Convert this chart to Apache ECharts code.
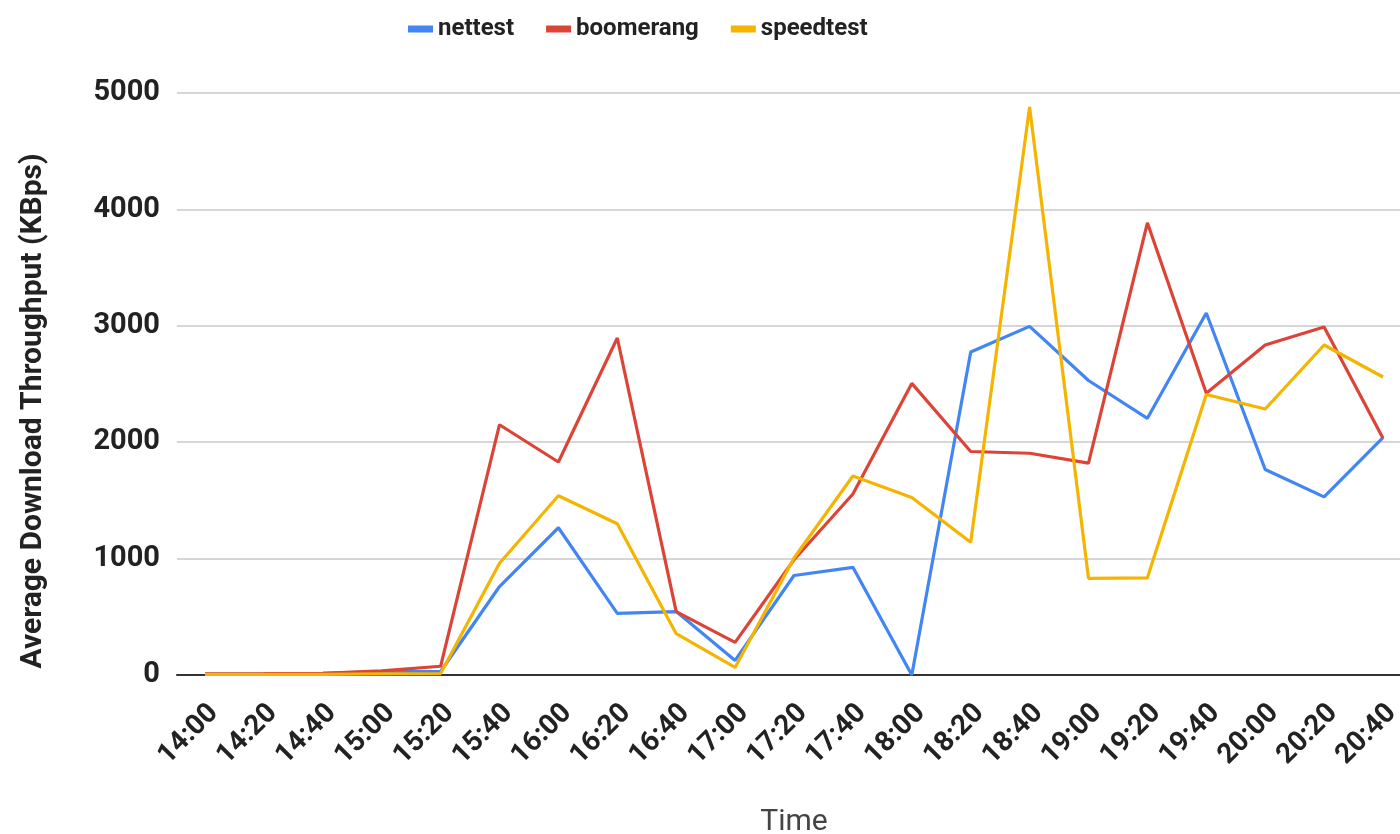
<!DOCTYPE html>
<html>
<head>
<meta charset="utf-8">
<title>Average Download Throughput</title>
<script src="https://cdn.jsdelivr.net/npm/echarts@6/dist/echarts.min.js"></script>
<style>
  html, body { margin: 0; padding: 0; background: #fff; }
  #chart { width: 1400px; height: 834px; }
</style>
</head>
<body>
<div id="chart"></div>
<script>
// Sample times (20-minute steps)
const times = ['14:00', '14:20', '14:40', '15:00', '15:20', '15:40', '16:00', '16:20', '16:40', '17:00', '17:20',
               '17:40', '18:00', '18:20', '18:40', '19:00', '19:20', '19:40', '20:00', '20:20', '20:40'];

// Average download throughput per tool, KBps
const nettest   = [8, 10, 15, 30, 30, 760, 1265, 530, 545, 125, 855, 925, 0, 2775, 2995, 2530, 2205, 3110, 1765, 1530, 2040];
const boomerang = [10, 12, 15, 35, 75, 2150, 1830, 2895, 545, 280, 990, 1555, 2505, 1920, 1905, 1820, 3885, 2420, 2835, 2990, 2035];
const speedtest = [5, 5, 5, 10, 12, 960, 1540, 1300, 355, 65, 1005, 1710, 1525, 1140, 4880, 830, 835, 2410, 2285, 2835, 2560];

const yTicks = { min: 0, max: 5000, interval: 1000 };
const yTitle = 'Average Download Throughput (KBps)';
const xTitle = 'Time';

const FONT = 'Roboto, "Noto Sans", sans-serif';
const COLORS = ['#4285F4', '#DB4437', '#F4B400'];

const chart = echarts.init(document.getElementById('chart'));

const lineSeries = (name, data) => ({
  name: name,
  type: 'line',
  xAxisIndex: 0,
  yAxisIndex: 0,
  data: data,
  showSymbol: false,
  symbol: 'none',
  lineStyle: { width: 3.2 },
  animation: false
});

// all grids share the same fixed pixel box vertically
const gridBox = (left, extra) => Object.assign(
  { left: left, top: 93, bottom: 159, containLabel: false, outerBoundsMode: 'none' }, extra);

chart.setOption({
  color: COLORS,
  animation: false,
  textStyle: { fontFamily: FONT },
  legend: {
    top: 12,
    left: 403,
    icon: 'rect',
    itemWidth: 25,
    itemHeight: 7,
    itemGap: 32,
    textStyle: { fontFamily: FONT, fontSize: 24, fontWeight: 'bold', color: '#222' },
    data: ['nettest', 'boomerang', 'speedtest']
  },
  grid: [
    // data area
    gridBox(205, { right: 17 }),
    // background: gridlines, value labels and baseline
    gridBox(177, { right: 0 }),
    // time labels, set slightly right of their points
    gridBox(214, { width: 1178 })
  ],
  graphic: [
    {
      type: 'text',
      x: 33,
      y: 411,
      rotation: Math.PI / 2,
      style: {
        text: yTitle,
        fontFamily: FONT,
        fontSize: 30,
        fontWeight: 'bold',
        fill: '#222',
        textAlign: 'center',
        textVerticalAlign: 'middle'
      }
    }
  ],
  xAxis: [
    {
      gridIndex: 0,
      type: 'category',
      data: times,
      boundaryGap: false,
      axisLine: { show: false },
      axisTick: { show: false },
      axisLabel: { show: false },
      name: xTitle,
      nameLocation: 'middle',
      nameGap: 132,
      nameTextStyle: { fontFamily: FONT, fontSize: 30, color: '#444' },
      splitLine: { show: false }
    },
    {
      gridIndex: 1,
      type: 'value',
      min: 0,
      max: 1,
      axisLine: { show: true, lineStyle: { color: '#333', width: 2 } },
      axisTick: { show: false },
      axisLabel: { show: false },
      splitLine: { show: false }
    },
    {
      gridIndex: 2,
      type: 'category',
      data: times,
      boundaryGap: false,
      axisLine: { show: false },
      axisTick: { show: false },
      axisLabel: {
        rotate: 45,
        margin: 34,
        interval: 0,
        fontFamily: FONT,
        fontSize: 28,
        fontWeight: 'bold',
        color: '#222'
      },
      splitLine: { show: false }
    }
  ],
  yAxis: [
    {
      gridIndex: 0,
      type: 'value',
      min: yTicks.min,
      max: yTicks.max,
      interval: yTicks.interval,
      axisLine: { show: false },
      axisTick: { show: false },
      axisLabel: { show: false },
      splitLine: { show: false }
    },
    {
      gridIndex: 1,
      type: 'value',
      min: yTicks.min,
      max: yTicks.max,
      interval: yTicks.interval,
      axisLine: { show: false },
      axisTick: { show: false },
      axisLabel: {
        margin: 17,
        formatter: (v) => String(v),
        fontFamily: FONT,
        fontSize: 29,
        fontWeight: 'bold',
        color: '#222'
      },
      splitLine: { show: true, lineStyle: { color: '#c8c8c8', width: 1.5 } }
    },
    {
      gridIndex: 2,
      type: 'value',
      min: yTicks.min,
      max: yTicks.max,
      interval: yTicks.interval,
      show: false
    }
  ],
  series: [
    lineSeries('nettest', nettest),
    lineSeries('boomerang', boomerang),
    lineSeries('speedtest', speedtest)
  ]
});
</script>
</body>
</html>
